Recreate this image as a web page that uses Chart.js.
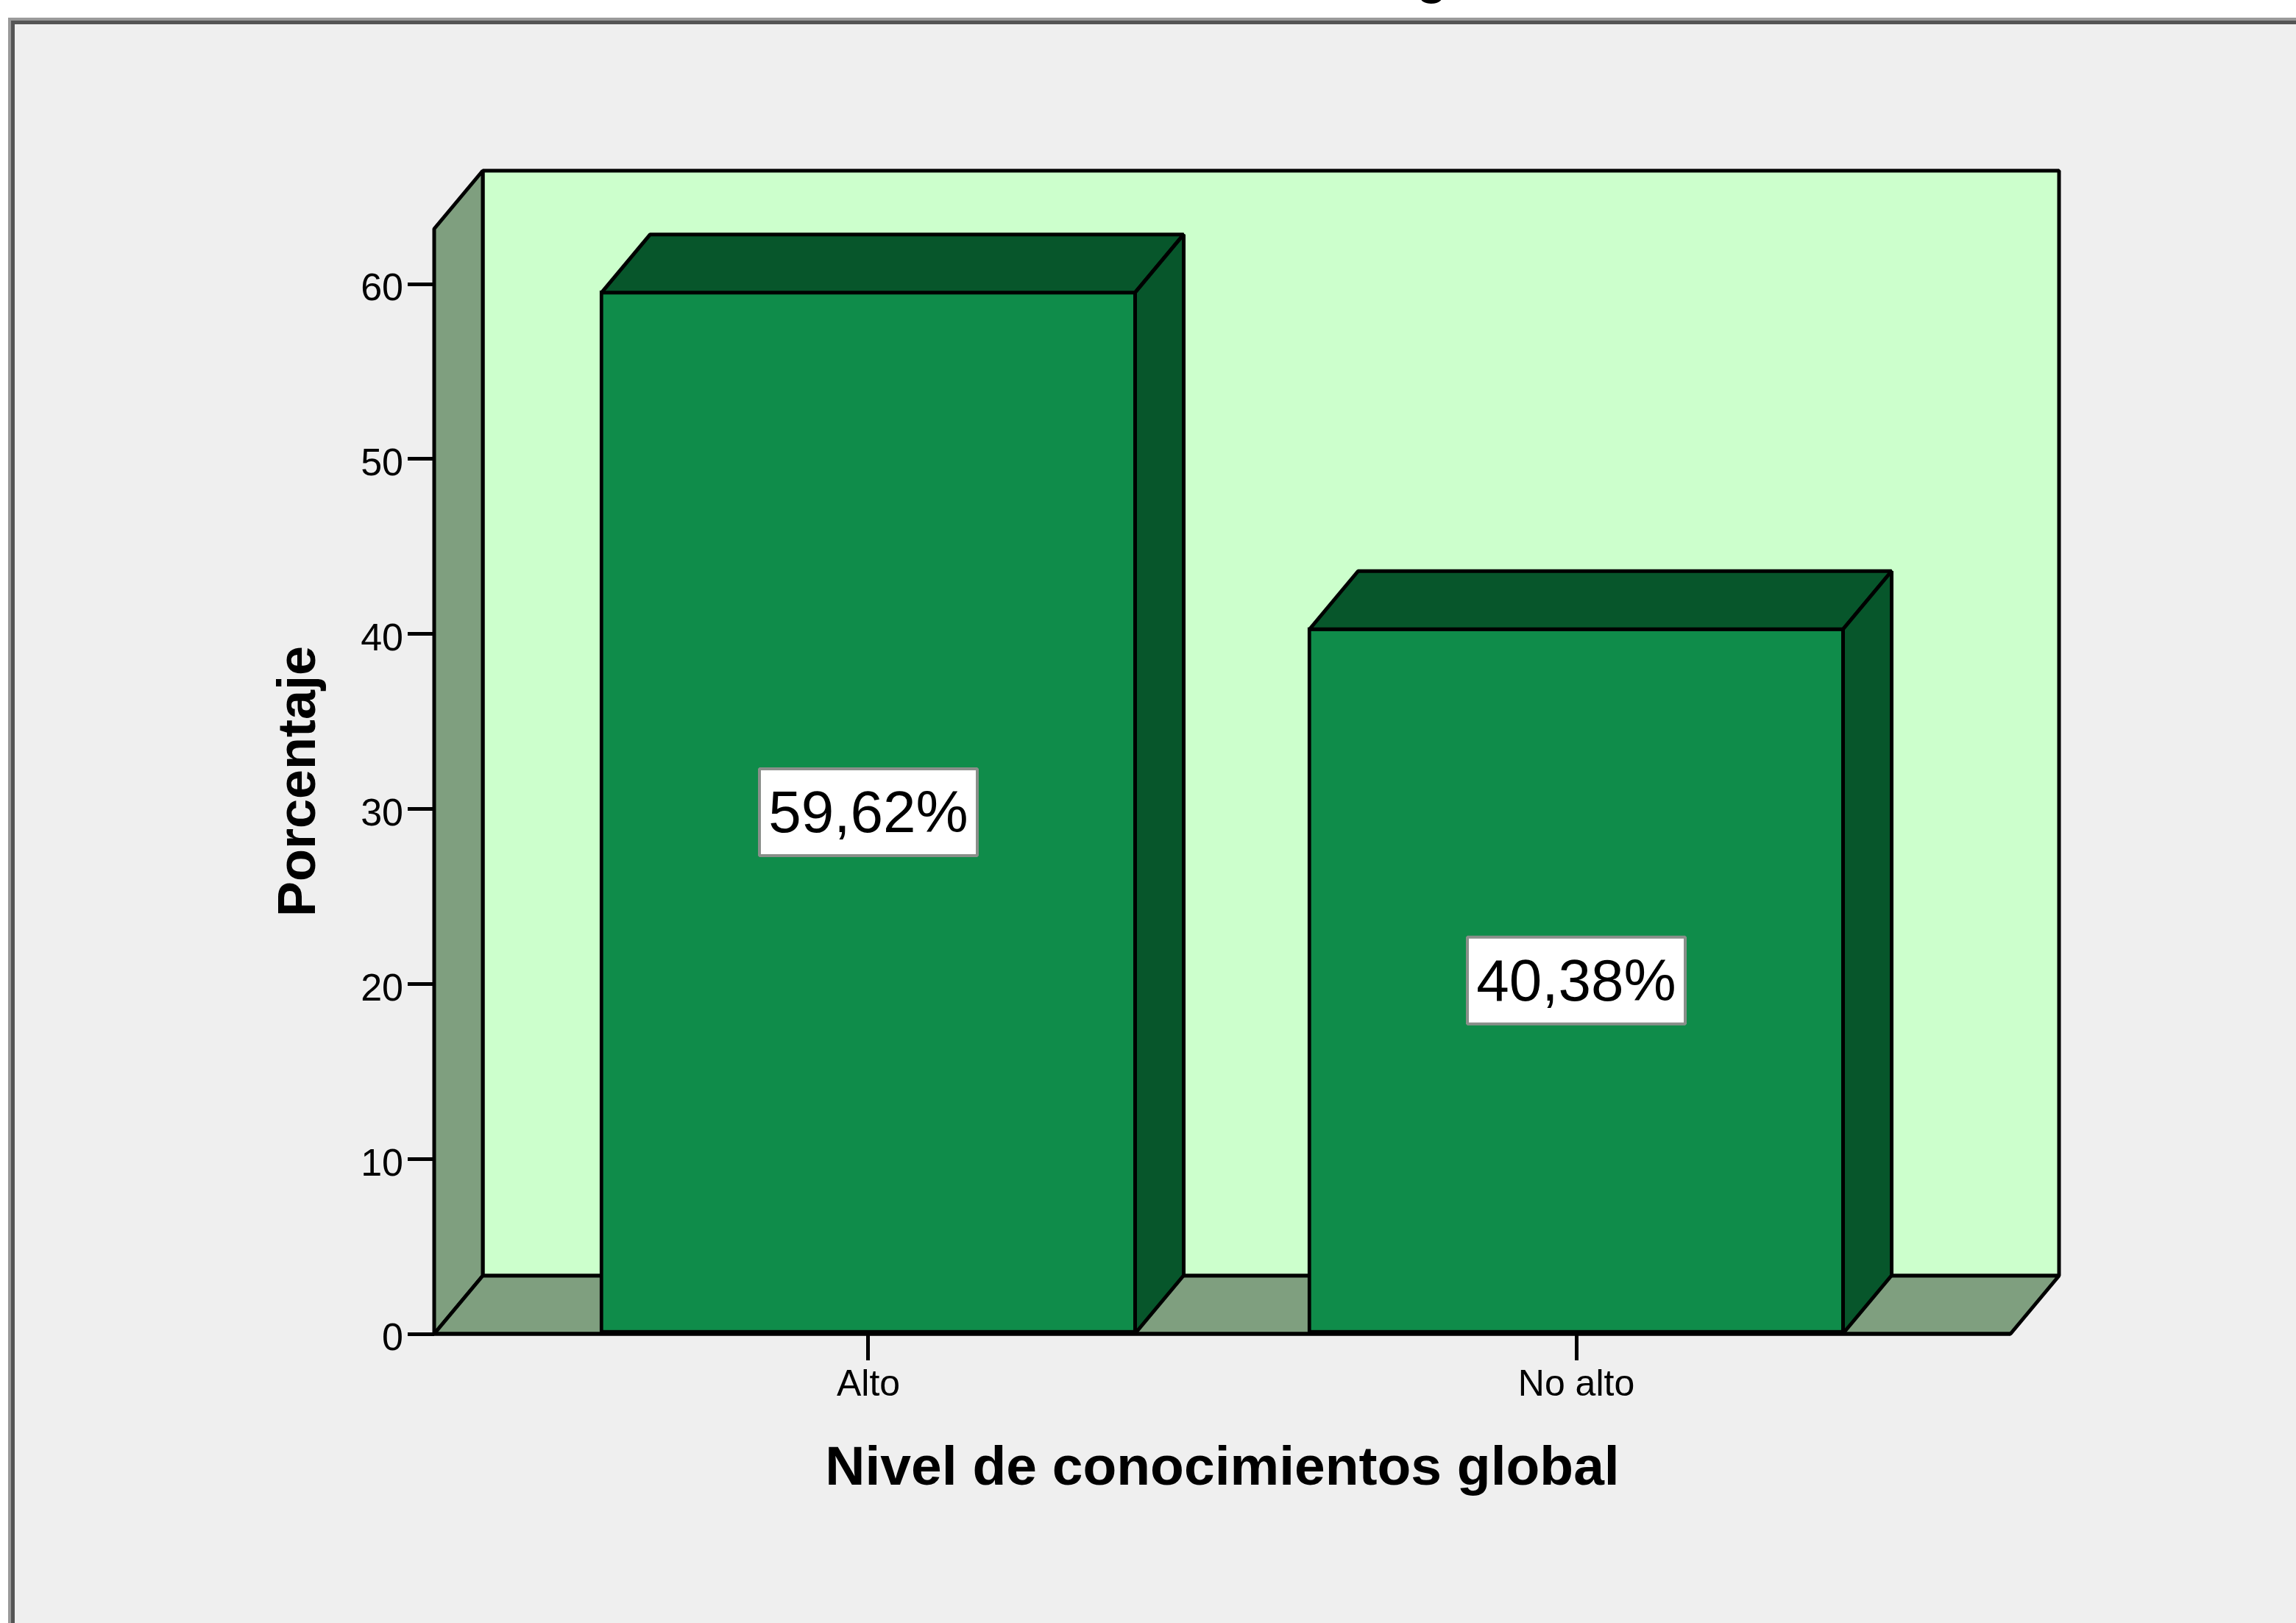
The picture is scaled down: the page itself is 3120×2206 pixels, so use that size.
<!DOCTYPE html>
<html>
<head>
<meta charset="utf-8">
<title>Nivel de conocimientos global</title>
<script src="https://cdn.jsdelivr.net/npm/chart.js@4/dist/chart.umd.min.js"></script>
<style>
  html,body{margin:0;padding:0;background:#fff;overflow:hidden}
  canvas{display:block}
</style>
</head>
<body>
<canvas id="myChart" width="3120" height="2206"></canvas>
<script>
const categories = ['Alto', 'No alto'];
const categoryPositions = [1, 2];
const percentages = [59.62, 40.38];
const percentageLabels = ['59,62%', '40,38%'];
const yTicks = [0, 10, 20, 30, 40, 50, 60];
const chartTitle = 'Nivel de conocimientos global';
const xTitle = 'Nivel de conocimientos global';
const yTitle = 'Porcentaje';

const depthX = 66;
const depthY = 79;
const lineW = 5;
const FONT = '"Liberation Sans", Arial, sans-serif';

const poly = (ctx, pts, fill) => {
  ctx.beginPath();
  pts.forEach((p, i) => i ? ctx.lineTo(p[0], p[1]) : ctx.moveTo(p[0], p[1]));
  ctx.closePath();
  ctx.fillStyle = fill;
  ctx.fill();
  ctx.lineWidth = lineW;
  ctx.strokeStyle = '#000';
  ctx.lineJoin = 'bevel';
  ctx.stroke();
};

// page frame and the clipped title above it
const framePlugin = {
  id: 'frame',
  beforeDraw(chart) {
    const ctx = chart.ctx;
    ctx.save();
    ctx.fillStyle = '#fff';
    ctx.fillRect(0, 0, 3120, 2206);
    ctx.fillStyle = '#efefef';
    ctx.fillRect(20, 32, 3100, 2174);
    ctx.fillStyle = '#9a9a9a';
    ctx.fillRect(11, 24, 3109, 4);
    ctx.fillRect(11, 24, 4, 2182);
    ctx.fillStyle = '#555';
    ctx.fillRect(15, 28, 3105, 5);
    ctx.fillRect(15, 28, 5, 2178);
    ctx.fillStyle = '#000';
    ctx.font = 'bold 68px ' + FONT;
    ctx.textAlign = 'center';
    ctx.textBaseline = 'alphabetic';
    ctx.fillText(chartTitle, 1636, -9);
    ctx.restore();
  }
};

// back wall, side wall and floor of the 3D box
const boxPlugin = {
  id: 'box',
  beforeDatasetsDraw(chart) {
    const ctx = chart.ctx;
    const {left, right, top, bottom} = chart.chartArea;
    ctx.save();
    poly(ctx, [[left + depthX, top - depthY], [right + depthX, top - depthY], [right + depthX, bottom - depthY], [left + depthX, bottom - depthY]], '#ccffcc');
    poly(ctx, [[left, bottom], [left, top], [left + depthX, top - depthY], [left + depthX, bottom - depthY]], '#7f9f7f');
    poly(ctx, [[left, bottom], [left + depthX, bottom - depthY], [right + depthX, bottom - depthY], [right, bottom]], '#7f9f7f');
    ctx.restore();
  }
};

// top and side faces of the bars plus the white value boxes
const barFacesPlugin = {
  id: 'barFaces',
  afterDatasetsDraw(chart) {
    const ctx = chart.ctx;
    const meta = chart.getDatasetMeta(0);
    const yScale = chart.scales.y;
    ctx.save();
    meta.data.forEach((bar, i) => {
      const l = bar.x - bar.width / 2 + lineW / 2;
      const r = bar.x + bar.width / 2 - lineW / 2;
      const t = bar.y + lineW / 2;
      const b = bar.base;
      poly(ctx, [[l, t], [l + depthX, t - depthY], [r + depthX, t - depthY], [r, t]], '#07562b');
      poly(ctx, [[r, t], [r + depthX, t - depthY], [r + depthX, b - depthY], [r, b]], '#07562b');

      const cy = yScale.getPixelForValue(percentages[i] / 2);
      ctx.fillStyle = '#fff';
      ctx.strokeStyle = '#8a8f8a';
      ctx.lineWidth = 4;
      ctx.fillRect(bar.x - 148, cy - 59, 296, 118);
      ctx.strokeRect(bar.x - 148, cy - 59, 296, 118);
      ctx.fillStyle = '#000';
      ctx.font = '80px ' + FONT;
      ctx.textAlign = 'center';
      ctx.textBaseline = 'middle';
      ctx.fillText(percentageLabels[i], bar.x, cy + 5);
    });
    const {left, right, bottom} = chart.chartArea;
    ctx.strokeStyle = '#000';
    ctx.lineWidth = lineW;
    ctx.beginPath();
    ctx.moveTo(left, bottom);
    ctx.lineTo(right, bottom);
    ctx.stroke();
    ctx.restore();
  }
};

new Chart(document.getElementById('myChart').getContext('2d'), {
  type: 'bar',
  data: {
    datasets: [{
      data: categoryPositions.map((x, i) => ({x: x, y: percentages[i]})),
      backgroundColor: '#0f8c4a',
      borderColor: '#000',
      borderWidth: lineW,
      borderSkipped: false,
      barThickness: 730
    }]
  },
  plugins: [framePlugin, boxPlugin, barFacesPlugin],
  options: {
    responsive: false,
    animation: false,
    devicePixelRatio: 1,
    layout: {padding: {top: 311, right: 388, left: 0, bottom: 0}},
    plugins: {legend: {display: false}, title: {display: false}, tooltip: {enabled: false}},
    scales: {
      x: {
        type: 'linear',
        offset: false,
        min: 0.3867,
        max: 2.6133,
        afterFit: s => { s.height = 393; },
        afterBuildTicks: s => { s.ticks = categoryPositions.map(v => ({value: v})); },
        border: {display: false},
        grid: {offset: false, drawOnChartArea: false, tickLength: 36, tickWidth: 5, tickColor: '#000'},
        ticks: {
          autoSkip: false,
          maxRotation: 0,
          padding: 4,
          color: '#000',
          font: {family: FONT, size: 50},
          callback: v => categories[categoryPositions.indexOf(v)]
        },
        title: {display: true, text: xTitle, color: '#000', padding: {top: 0, bottom: 164}, font: {family: FONT, size: 75, weight: 'bold'}}
      },
      y: {
        min: 0,
        max: 63.16,
        afterFit: s => { s.width = 590; },
        afterBuildTicks: s => { s.ticks = yTicks.map(v => ({value: v})); },
        border: {display: false},
        grid: {drawOnChartArea: false, tickLength: 36, tickWidth: 5, tickColor: '#000'},
        ticks: {
          padding: 6,
          color: '#000',
          font: {family: FONT, size: 52, lineHeight: '16px'},
          // empty first line nudges the number just below its tick, as in the original
          callback: v => ['', String(v)]
        },
        title: {display: true, text: yTitle, color: '#000', padding: {top: 365, bottom: 0}, font: {family: FONT, size: 72, weight: 'bold'}}
      }
    }
  }
});
</script>
</body>
</html>
